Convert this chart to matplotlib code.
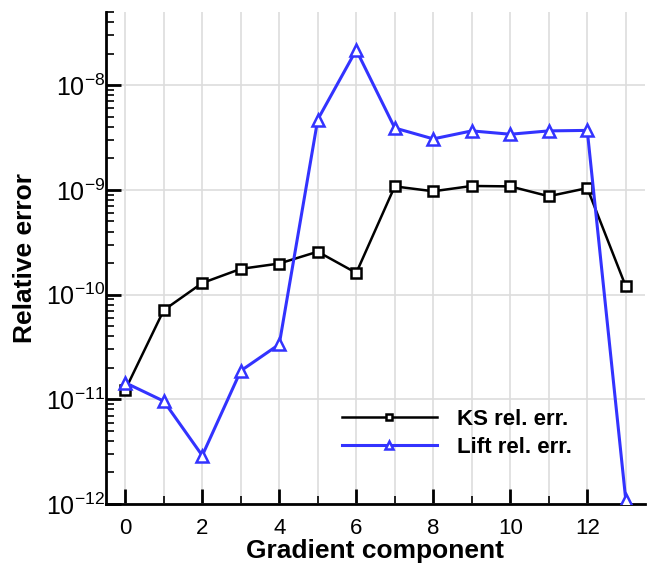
import matplotlib
matplotlib.use('Agg')
import matplotlib.pyplot as plt
from matplotlib.ticker import LogLocator, MultipleLocator, NullFormatter

plt.rcParams['font.family'] = ['Liberation Sans', 'DejaVu Sans']
plt.rcParams['mathtext.fontset'] = 'custom'
plt.rcParams['mathtext.rm'] = 'Liberation Sans'
plt.rcParams['mathtext.default'] = 'regular'
plt.rcParams['axes.unicode_minus'] = False

# gradient component index
components = list(range(14))
# KS relative error
ks_err = [1.23e-11, 7.1e-11, 1.29e-10, 1.76e-10, 1.98e-10, 2.57e-10, 1.61e-10,
          1.08e-9, 9.7e-10, 1.09e-9, 1.08e-9, 8.7e-10, 1.04e-9, 1.2e-10]
# Lift relative error
lift_err = [1.44e-11, 9.6e-12, 2.9e-12, 1.87e-11, 3.35e-11, 4.7e-9, 2.17e-8,
            3.9e-9, 3.07e-9, 3.66e-9, 3.4e-9, 3.66e-9, 3.7e-9, 1.1e-12]

fig = plt.figure(figsize=(6.49, 5.68), dpi=100)
ax = fig.add_axes([106 / 649, 1 - 504 / 568, (645 - 106) / 649, (504 - 12) / 568])

ax.plot(components, ks_err, color='black', lw=1.8, marker='s', ms=7,
        mfc='white', mec='black', mew=1.8, label='KS rel. err.', zorder=3)
ax.plot(components, lift_err, color='#3333ff', lw=2.2, marker='^', ms=8,
        mfc='white', mec='#3333ff', mew=1.8, label='Lift rel. err.', zorder=3)

ax.set_yscale('log')
ax.set_xlim(-0.5, 13.5)
ax.set_ylim(1e-12, 5e-8)

ax.xaxis.set_major_locator(MultipleLocator(2))
ax.xaxis.set_minor_locator(MultipleLocator(1))
ax.yaxis.set_major_locator(LogLocator(base=10))
ax.yaxis.set_minor_locator(LogLocator(base=10, subs=range(2, 10)))
ax.yaxis.set_minor_formatter(NullFormatter())

ax.grid(True, which='major', axis='y', color='#dddddd', lw=1.2, zorder=0)
ax.grid(True, which='both', axis='x', color='#dddddd', lw=1.2, zorder=0)
ax.set_axisbelow(True)

for s in ['top', 'right']:
    ax.spines[s].set_visible(False)
for s in ['left', 'bottom']:
    ax.spines[s].set_linewidth(2)

ax.tick_params(which='major', direction='in', length=11, width=2, labelsize=15)
ax.tick_params(which='minor', direction='in', length=6, width=1.2)
ax.tick_params(axis='x', which='major', pad=10, labelsize=16)
ax.tick_params(axis='y', which='major', pad=0.5, labelsize=18)

ax.set_xlabel('Gradient component', fontsize=19, fontweight='bold', labelpad=0)
ax.set_ylabel('Relative error', fontsize=19, fontweight='bold', labelpad=7)

leg = ax.legend(loc='lower left', bbox_to_anchor=(0.40, 0.053), frameon=False,
                handlelength=4.3, fontsize=16, labelspacing=0.3, handletextpad=0.9,
                markerscale=0.7)
for t in leg.get_texts():
    t.set_fontweight('bold')

fig.savefig('out.png', dpi=100)
